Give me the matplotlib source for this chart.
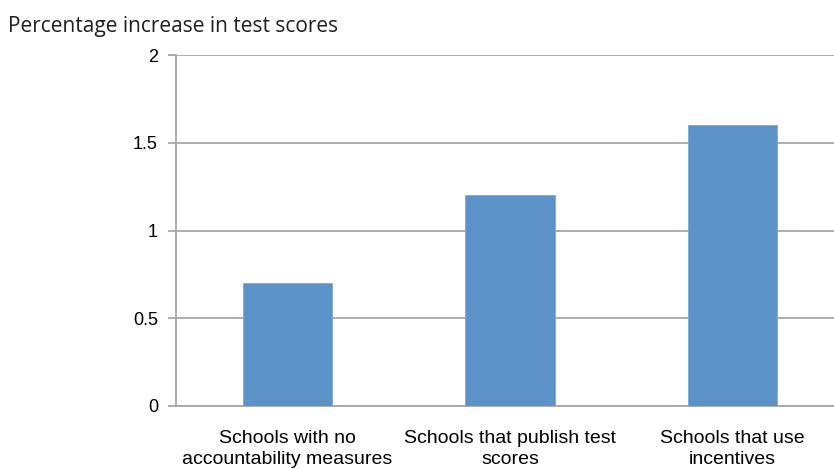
import matplotlib

matplotlib.use("Agg")
import matplotlib.pyplot as plt

categories = [
    "Schools with no\naccountability measures",
    "Schools that publish test\nscores",
    "Schools that use\nincentives",
]
increase = [0.7, 1.2, 1.6]
y_ticks = [0, 0.5, 1, 1.5, 2]
y_tick_labels = ["0", "0.5", "1", "1.5", "2"]

BAR_COLOR = "#5b93c8"
GRID_COLOR = "#a6a6a6"

fig = plt.figure(figsize=(8.34, 4.68), dpi=100)
# plot area runs off the right edge of the figure
ax = fig.add_axes([176 / 834, 1 - 406 / 468, 1 - 176 / 834, 351 / 468])

positions = range(len(categories))
ax.bar(list(positions), increase, width=0.4, color=BAR_COLOR,
       edgecolor="#7eaad6", linewidth=0.6, zorder=3)

ax.set_xlim(-0.5, 2.455)
ax.set_ylim(0, 2)
ax.set_yticks(y_ticks)
ax.set_yticklabels(y_tick_labels, fontfamily="Liberation Sans", fontsize=13)
ax.set_xticks(list(positions))
ax.set_xticklabels(categories, fontfamily="Liberation Sans", fontsize=14,
                   linespacing=1.35)

ax.yaxis.grid(True, color=GRID_COLOR, linewidth=1.3, zorder=0)
ax.set_axisbelow(True)
for side in ("top", "right"):
    ax.spines[side].set_visible(False)
for side in ("left", "bottom"):
    ax.spines[side].set_color(GRID_COLOR)
    ax.spines[side].set_linewidth(1.3)
ax.tick_params(axis="y", length=6, width=1.3, color=GRID_COLOR, pad=7,
               labelcolor="black")
ax.tick_params(axis="x", length=0, pad=17, labelcolor="black")

fig.text(8 / 834, 1 - 32 / 468, "Percentage increase in test scores",
         fontfamily="Open Sans", fontsize=15, color="#1e1e1e",
         ha="left", va="baseline")

fig.savefig("out.png", dpi=100)
